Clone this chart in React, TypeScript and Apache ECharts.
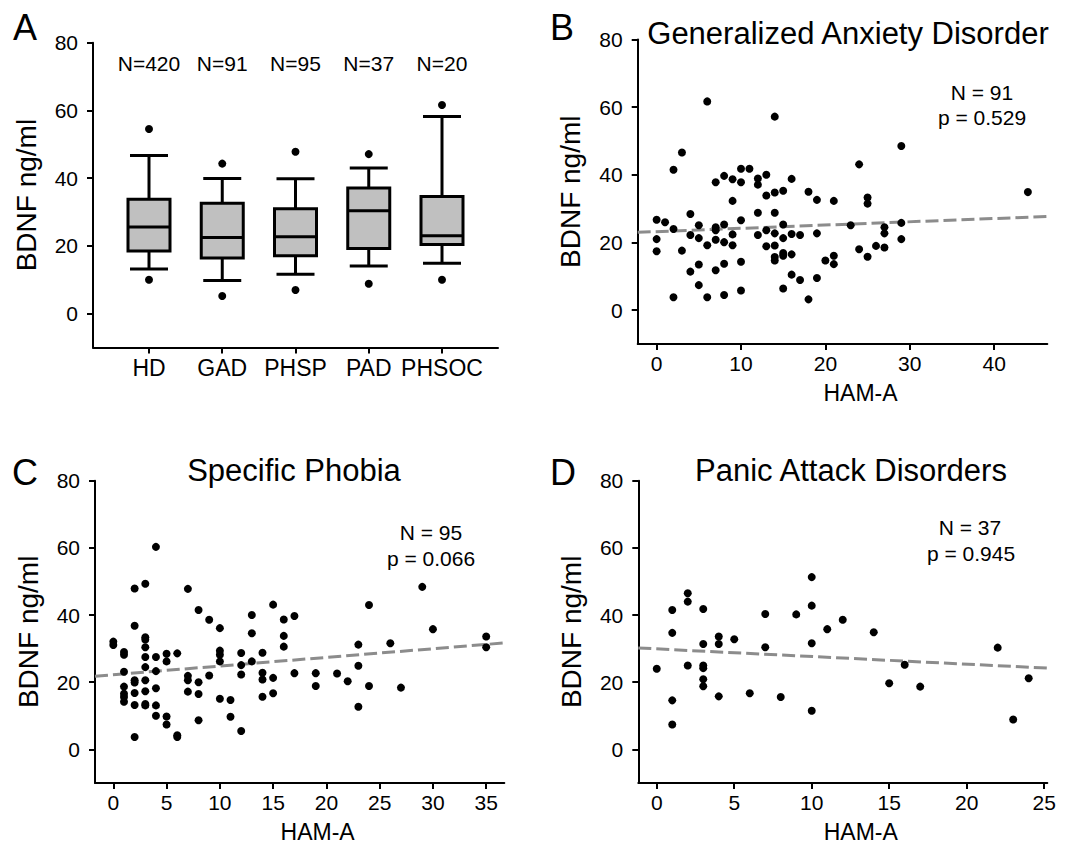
import React, { useEffect, useRef } from "react";
import * as echarts from "echarts";

const FF = "'Liberation Sans', Arial, Helvetica, sans-serif";

// Panel A: box plot statistics (BDNF ng/ml)
const groups = ["HD", "GAD", "PHSP", "PAD", "PHSOC"];
const groupN = [420, 91, 95, 37, 20];
const whiskerLow = [13.2, 9.8, 11.6, 14.1, 14.9];
const q1 = [18.5, 16.4, 17.1, 19.2, 20.4];
const median = [25.6, 22.5, 22.7, 30.4, 23.0];
const q3 = [33.8, 32.6, 31.0, 37.1, 34.6];
const whiskerHigh = [46.7, 39.9, 39.8, 43.0, 58.2];
const outlierHigh = [54.5, 44.3, 47.8, 47.1, 61.6];
const outlierLow = [10.0, 5.2, 7.0, 8.8, 10.0];
const nLabelLevel = 74;

// Panel B: Generalized Anxiety Disorder [HAM-A, BDNF]
const gadPoints = [
  [0, 26.7], [0, 21.0], [0, 17.4], [1, 26.0], [2, 41.5], [2, 24.0], [2, 3.8], [3, 46.6], [3, 17.6],
  [4, 28.4], [4, 22.2], [4, 11.4], [5, 25.1], [5, 21.3], [5, 13.5], [5, 7.4], [6, 61.7], [6, 19.2], [6, 3.8],
  [7, 37.8], [7, 24.5], [7, 23.6], [7, 20.8], [7, 11.8], [8, 39.7], [8, 25.3], [8, 20.1], [8, 13.7], [8, 4.5],
  [9, 38.7], [9, 32.3], [9, 22.4], [9, 19.2], [10, 41.8], [10, 37.8], [10, 26.6], [10, 14.3], [10, 5.8],
  [11, 41.8], [12, 38.9], [12, 37.1], [12, 28.8], [12, 22.2], [13, 40.0], [13, 33.9], [13, 23.6], [13, 18.9],
  [14, 57.2], [14, 34.8], [14, 28.8], [14, 22.7], [14, 19.1], [14, 15.7], [14, 14.7],
  [15, 35.3], [15, 25.3], [15, 21.3], [15, 16.9], [15, 16.1], [15, 6.4], [16, 38.8], [16, 22.5], [16, 16.5], [16, 10.5],
  [17, 22.2], [17, 8.9], [18, 35.0], [18, 3.2], [19, 32.6], [19, 22.7], [19, 9.5], [20, 14.7],
  [21, 32.3], [21, 16.1], [21, 13.6], [23, 25.1], [24, 43.1], [24, 18.0], [25, 33.3], [25, 31.5], [25, 15.8],
  [26, 19.0], [27, 24.5], [27, 22.7], [27, 18.5], [29, 48.5], [29, 25.8], [29, 21.0], [44, 34.9],
];
const gadTrend = [[-2.24, 23.0], [46.3, 27.7]];

// Panel C: Specific Phobia
const spPoints = [
  [0, 32.1], [0, 31.1],
  [1, 29.0], [1, 28.2], [1, 23.1], [1, 18.7], [1, 16.6], [1, 15.6], [1, 14.2],
  [2, 47.9], [2, 36.8], [2, 20.6], [2, 19.9], [2, 16.8], [2, 13.2], [2, 3.7],
  [3, 49.3], [3, 33.4], [3, 32.7], [3, 30.4], [3, 27.5], [3, 24.5], [3, 20.6], [3, 17.3], [3, 13.5], [3, 13.1],
  [4, 60.3], [4, 27.5], [4, 23.3], [4, 18.2], [4, 13.1], [4, 10.0],
  [5, 28.5], [5, 26.2], [5, 9.8], [5, 7.4],
  [6, 28.6], [6, 4.2], [6, 3.7],
  [7, 47.8], [7, 21.9], [7, 20.6], [7, 17.2],
  [8, 41.5], [8, 20.0], [8, 16.5], [8, 8.7],
  [9, 38.6], [9, 22.0],
  [10, 36.1], [10, 29.4], [10, 28.2], [10, 26.2], [10, 15.1],
  [11, 14.7], [11, 9.7],
  [12, 28.7], [12, 25.1], [12, 22.3], [12, 5.5],
  [13, 40.0], [13, 34.6], [13, 26.2],
  [14, 28.8], [14, 22.8], [14, 20.8], [14, 15.7],
  [15, 43.1], [15, 21.3], [15, 16.7],
  [16, 38.7], [16, 33.8], [16, 30.6],
  [17, 39.7], [17, 22.7],
  [19, 22.7], [19, 18.9],
  [21, 22.6], [22, 20.3],
  [23, 31.2], [23, 24.9], [23, 12.7],
  [24, 43.0], [24, 18.9],
  [26, 31.6], [27, 18.4], [29, 48.4], [30, 35.8],
  [35, 33.6], [35, 30.4],
];
const spTrend = [[-1.72, 21.8], [36.7, 31.7]];

// Panel D: Panic Attack Disorders
const padPoints = [
  [0, 24.0], [1, 41.5], [1, 34.7], [1, 14.6], [1, 7.4], [2, 46.5], [2, 44.0], [2, 25.0],
  [3, 41.8], [3, 31.4], [3, 25.0], [3, 24.2], [3, 20.9], [3, 18.8], [4, 33.6], [4, 31.4], [4, 15.8],
  [5, 32.8], [6, 16.7], [7, 40.3], [7, 30.4], [8, 15.6], [9, 40.2], [10, 51.3], [10, 42.8], [10, 31.6], [10, 11.5],
  [11, 35.8], [12, 38.6], [14, 34.9], [15, 19.7], [16, 25.2], [17, 18.7], [22, 30.3], [23, 8.9], [24, 21.2],
];
const padTrend = [[-1.19, 30.2], [25.2, 24.2]];

const yTicks = [0, 20, 40, 60, 80];
const gadTicks = [0, 10, 20, 30, 40];
const spTicks = [0, 5, 10, 15, 20, 25, 30, 35];
const padTicks = [0, 5, 10, 15, 20, 25];

const axisLine = { show: true, onZero: false, lineStyle: { color: "#000", width: 2 } };

function yAxisCfg(gridIndex: number) {
  return {
    type: "value",
    gridIndex,
    min: -10,
    max: 80,
    axisLine,
    axisTick: { show: true, length: 6, lineStyle: { color: "#000", width: 2 }, customValues: yTicks },
    axisLabel: { customValues: yTicks, color: "#000", fontSize: 21, fontFamily: FF, margin: 15 },
    splitLine: { show: false },
    name: "BDNF ng/ml",
    nameLocation: "middle",
    nameGap: 53,
    nameTextStyle: { fontSize: 28, color: "#000", fontFamily: FF },
  };
}

function xAxisCfg(gridIndex: number, min: number, max: number, ticks: number[]) {
  return {
    type: "value",
    gridIndex,
    min,
    max,
    axisLine,
    axisTick: { show: true, length: 6, lineStyle: { color: "#000", width: 2 }, customValues: ticks },
    axisLabel: { customValues: ticks, color: "#000", fontSize: 21, fontFamily: FF, margin: 9 },
    splitLine: { show: false },
    name: "HAM-A",
    nameLocation: "middle",
    nameGap: 37,
    nameTextStyle: { fontSize: 23, color: "#000", fontFamily: FF, padding: [0, 0, 0, 36] },
  };
}

function scatterSeries(idx: number, data: number[][]) {
  return {
    type: "scatter",
    xAxisIndex: idx,
    yAxisIndex: idx,
    data,
    symbolSize: 8,
    itemStyle: { color: "#000", opacity: 1 },
    emphasis: { disabled: true },
    z: 3,
  };
}

function trendSeries(idx: number, data: number[][]) {
  return {
    type: "line",
    xAxisIndex: idx,
    yAxisIndex: idx,
    data,
    symbol: "none",
    lineStyle: { color: "#8c8c8c", width: 3, type: [13, 5] },
    z: 2,
  };
}

function txt(x: number, y: number, text: string, fontSize: number) {
  return {
    type: "text",
    x,
    y,
    style: { text, fontSize, fontFamily: FF, fill: "#000", align: "center", verticalAlign: "middle" },
  };
}

export default function App() {
  const ref = useRef<HTMLDivElement>(null);
  useEffect(() => {
    if (!ref.current) return;
    const chart = echarts.init(ref.current, null, { renderer: "svg" });

    const boxData = groups.map((_, i) => [i + 1, whiskerLow[i], q1[i], median[i], q3[i], whiskerHigh[i]]);
    const outliers: number[][] = [];
    groups.forEach((_, i) => {
      outliers.push([i + 1, outlierHigh[i]]);
      outliers.push([i + 1, outlierLow[i]]);
    });
    const nLabels = groups.map((_, i) => [i + 1, nLabelLevel]);

    const option: any = {
      animation: false,
      backgroundColor: "#fff",
      grid: [
        { left: 93, top: 42.7, width: 405, height: 304.8 },
        { left: 637.7, top: 39.5, width: 409.6, height: 304.5 },
        { left: 95, top: 480.7, width: 409.3, height: 304.3 },
        { left: 638.3, top: 480.7, width: 409, height: 304.3 },
      ],
      xAxis: [
        {
          type: "value",
          gridIndex: 0,
          min: 0.2355,
          max: 5.7645,
          axisLine,
          axisTick: { show: true, length: 6, lineStyle: { color: "#000", width: 2 }, customValues: [1, 2, 3, 4, 5] },
          axisLabel: {
            customValues: [1, 2, 3, 4, 5],
            color: "#000",
            fontSize: 23,
            fontFamily: FF,
            margin: 9,
            formatter: (v: number) => groups[Math.round(v) - 1] || "",
          },
          splitLine: { show: false },
        },
        xAxisCfg(1, -2.24, 46.3, gadTicks),
        xAxisCfg(2, -1.72, 36.7, spTicks),
        xAxisCfg(3, -1.19, 25.2, padTicks),
      ],
      yAxis: [yAxisCfg(0), yAxisCfg(1), yAxisCfg(2), yAxisCfg(3)],
      series: [
        {
          type: "custom",
          xAxisIndex: 0,
          yAxisIndex: 0,
          data: boxData,
          encode: { x: 0, y: [1, 2, 3, 4, 5] },
          renderItem: (params: any, api: any) => {
            const x = api.value(0);
            const lo = api.coord([x, api.value(1)]);
            const b1 = api.coord([x, api.value(2)]);
            const md = api.coord([x, api.value(3)]);
            const b3 = api.coord([x, api.value(4)]);
            const hi = api.coord([x, api.value(5)]);
            const cx = lo[0];
            const bw = 21;
            const cw = 19;
            const ls = { stroke: "#000", lineWidth: 3 };
            return {
              type: "group",
              children: [
                { type: "line", shape: { x1: cx, y1: hi[1], x2: cx, y2: b3[1] }, style: ls },
                { type: "line", shape: { x1: cx, y1: b1[1], x2: cx, y2: lo[1] }, style: ls },
                { type: "line", shape: { x1: cx - cw, y1: hi[1], x2: cx + cw, y2: hi[1] }, style: ls },
                { type: "line", shape: { x1: cx - cw, y1: lo[1], x2: cx + cw, y2: lo[1] }, style: ls },
                {
                  type: "rect",
                  shape: { x: cx - bw, y: b3[1], width: 2 * bw, height: b1[1] - b3[1] },
                  style: { fill: "#c0c0c0", stroke: "#000", lineWidth: 3 },
                },
                { type: "line", shape: { x1: cx - bw, y1: md[1], x2: cx + bw, y2: md[1] }, style: ls },
              ],
            };
          },
        },
        scatterSeries(0, outliers),
        {
          type: "scatter",
          xAxisIndex: 0,
          yAxisIndex: 0,
          data: nLabels,
          symbolSize: 0,
          itemStyle: { opacity: 1 },
          emphasis: { disabled: true },
          label: {
            show: true,
            position: "inside",
            color: "#000",
            fontSize: 21,
            fontFamily: FF,
            formatter: (p: any) => "N=" + groupN[p.dataIndex],
          },
        },
        trendSeries(1, gadTrend),
        scatterSeries(1, gadPoints),
        trendSeries(2, spTrend),
        scatterSeries(2, spPoints),
        trendSeries(3, padTrend),
        scatterSeries(3, padPoints),
      ],
      graphic: [
        txt(25, 27, "A", 36),
        txt(562, 27, "B", 36),
        txt(25, 472, "C", 36),
        txt(563, 472, "D", 36),
        txt(848, 33, "Generalized Anxiety Disorder", 31),
        txt(294, 470, "Specific Phobia", 31),
        txt(851, 470, "Panic Attack Disorders", 31),
        txt(982, 92, "N = 91", 21),
        txt(982, 117, "p = 0.529", 21),
        txt(431, 532, "N = 95", 21),
        txt(431, 558, "p = 0.066", 21),
        txt(970, 527, "N = 37", 21),
        txt(971, 553, "p = 0.945", 21),
      ],
    };
    chart.setOption(option);
    return () => chart.dispose();
  }, []);
  return (
    <div
      ref={ref}
      style={{ position: "fixed", left: 0, top: 0, width: 1073, height: 844, background: "#fff" }}
    />
  );
}
